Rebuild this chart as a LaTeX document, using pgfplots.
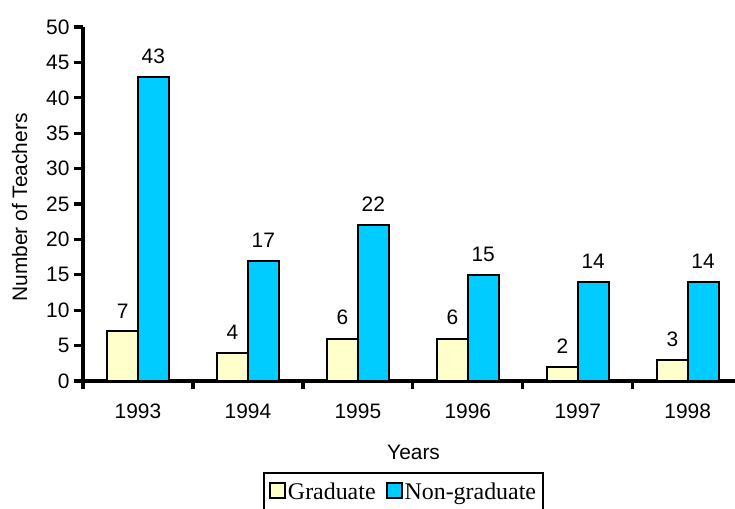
\documentclass[border=0pt]{standalone}
\usepackage{fontspec}
\setmainfont{Liberation Sans}
\newfontfamily\legfont{Liberation Serif}
\usepackage{pgfplots}
\pgfplotsset{compat=1.18}
\definecolor{grad}{HTML}{FFFFCC}
\definecolor{nongrad}{HTML}{00CCFF}
\begin{document}
\begin{tikzpicture}
\useasboundingbox (0,0) rectangle (735bp,509bp);
\begin{axis}[
  at={(83bp,128bp)}, anchor=south west,
  scale only axis, width=652bp, height=354bp,
  xmin=-0.5, xmax=5.43, ymin=0, ymax=50,
  axis lines=left,
  axis line style={line width=3.2bp, -},
  clip=false,
  ybar, bar width=0.28,
  xtick={0,1,2,3,4,5},
  xticklabels={1993,1994,1995,1996,1997,1998},
  minor xtick={-0.5,0.5,1.5,2.5,3.5,4.5},
  every tick/.style={black, line width=3.2bp},
  major x tick style={draw=none},
  minor tick length=8bp,
  ytick={0,5,...,50},
  major tick length=9bp,
  tick align=outside,
  tick pos=left,
  /pgf/number format/assume math mode=true,
  tick label style={font=\fontsize{21}{24}\selectfont},
  yticklabel style={xshift=-1bp},
  xticklabel style={yshift=-10bp},
  xlabel={Years},
  ylabel={Number of Teachers},
  label style={font=\fontsize{21}{24}\selectfont},
  xlabel style={at={(axis description cs:0.507,-0.2006)}, anchor=center},
  ylabel style={at={(axis description cs:-0.097,0.49)}, anchor=center, rotate=0},
  nodes near coords,
  every node near coord/.append style={font=\fontsize{21}{24}\selectfont, anchor=south, yshift=9bp},
  legend columns=2,
  legend style={at={(axis description cs:0.4916,-0.257)}, anchor=north,
    draw=black, line width=2bp, font=\legfont\fontsize{24}{28}\selectfont,
    inner xsep=5bp, inner ysep=8bp,
    /tikz/every even column/.append style={column sep=8bp}},
  legend image code/.code={\draw[#1, line width=2bp] (0bp,-6bp) rectangle (15bp,9bp);},
]
\addplot[bar shift=-0.14, fill=grad, draw=black, line width=2bp] coordinates {(0,7) (1,4) (2,6) (3,6) (4,2) (5,3)};
\addplot[bar shift=0.14, fill=nongrad, draw=black, line width=2bp] coordinates {(0,43) (1,17) (2,22) (3,15) (4,14) (5,14)};
\legend{Graduate,Non-graduate}
\end{axis}
\end{tikzpicture}
\end{document}
